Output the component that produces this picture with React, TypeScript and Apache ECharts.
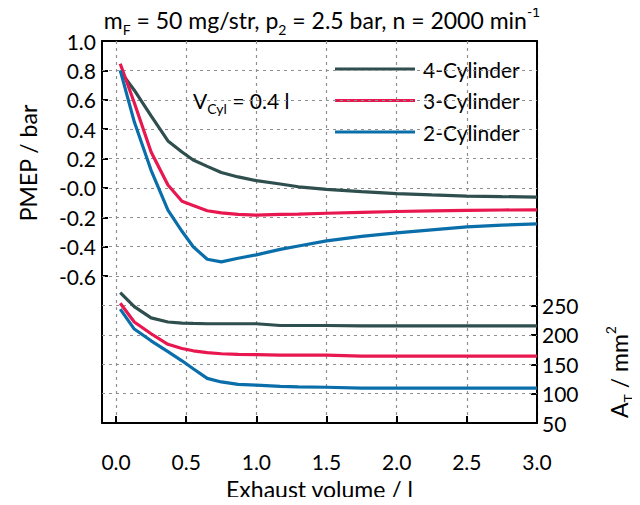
import React, { useEffect, useRef } from "react";
import * as echarts from "echarts";

const xs = [0.03, 0.13, 0.25, 0.37, 0.47, 0.55, 0.65, 0.75, 0.87, 1.0, 1.17, 1.3, 1.5, 1.75, 2.0, 2.25, 2.5, 2.75, 3.0];
const pmep4 = [0.795, 0.665, 0.49, 0.32, 0.245, 0.19, 0.147, 0.105, 0.075, 0.05, 0.027, 0.008, -0.01, -0.025, -0.038, -0.047, -0.055, -0.059, -0.062];
const pmep3 = [0.845, 0.58, 0.245, 0.02, -0.09, -0.12, -0.155, -0.17, -0.18, -0.185, -0.18, -0.178, -0.172, -0.166, -0.16, -0.156, -0.152, -0.15, -0.149];
const pmep2 = [0.8, 0.45, 0.12, -0.15, -0.295, -0.4, -0.485, -0.503, -0.478, -0.455, -0.418, -0.395, -0.36, -0.33, -0.305, -0.285, -0.265, -0.253, -0.244];
const at4 = [272, 248, 229, 222, 220, 219.5, 219, 219, 219, 219, 216, 216, 216, 215.5, 215.5, 215.5, 215.5, 215.5, 215.5];
const at3 = [254, 222, 202, 184, 177, 173, 170, 168, 167, 166.5, 165.5, 165.5, 165.5, 164, 164, 164, 164, 164, 164];
const at2 = [244, 210, 190, 171.5, 156, 142.5, 126, 120, 116, 114.5, 112.5, 111.5, 111, 109.5, 109.5, 109.5, 109.5, 109.5, 109.5];

const seriesNames = ["4-Cylinder", "3-Cylinder", "2-Cylinder"];
const colors = ["#2f4e4e", "#e8174f", "#0a6eaa"];
const xTicks = [0, 0.5, 1.0, 1.5, 2.0, 2.5, 3.0];
const leftTicks = [-0.6, -0.4, -0.2, 0, 0.2, 0.4, 0.6, 0.8, 1.0];
const rightLabels = [50, 100, 150, 200, 250];
const rightTicks = [100, 150, 200, 250];
const hGrid = [100, 150, 200, 250, 300, 350, 400, 450, 500, 550, 600, 650];

const FONT = "Lato, 'Liberation Sans', sans-serif";
const FS = 21;
const FT = 23;
const GRID_COLOR = "#8f8f8f";

const pairs = (ys: number[]) => xs.map((x, i) => [x, ys[i]]);

export default function App() {
  const ref = useRef<HTMLDivElement>(null);
  useEffect(() => {
    if (!ref.current) return;
    const chart = echarts.init(ref.current, null, { renderer: "svg" });
    const pm = [pmep4, pmep3, pmep2];
    const at = [at4, at3, at2];
    const series: any[] = [
      {
        name: "grid",
        type: "line",
        xAxisIndex: 0,
        yAxisIndex: 1,
        data: [],
        symbol: "none",
        silent: true,
        z: 1,
        markLine: {
          silent: true,
          symbol: "none",
          label: { show: false },
          lineStyle: { color: GRID_COLOR, width: 1.2, type: [3, 4] },
          data: hGrid.map((v) => ({ yAxis: v })),
        },
      },
    ];
    for (let i = 0; i < 3; i++) {
      series.push({
        name: seriesNames[i],
        type: "line",
        xAxisIndex: 0,
        yAxisIndex: 0,
        data: pairs(pm[i]),
        symbol: "none",
        lineStyle: { color: colors[i], width: 3.2 },
        itemStyle: { color: colors[i] },
        z: 5,
      });
    }
    for (let i = 0; i < 3; i++) {
      series.push({
        name: seriesNames[i] + " AT",
        type: "line",
        xAxisIndex: 0,
        yAxisIndex: 1,
        data: pairs(at[i]),
        symbol: "none",
        lineStyle: { color: colors[i], width: 3.2 },
        itemStyle: { color: colors[i] },
        z: 5,
      });
    }
    const gridLine = { show: true, lineStyle: { color: GRID_COLOR, width: 1.2, type: [3, 4] } };
    const blackLine = { show: true, onZero: false, lineStyle: { color: "#000", width: 2 } };
    chart.setOption({
      animation: false,
      backgroundColor: "#ffffff",
      grid: { left: 102, right: 103, top: 41, bottom: 76 },
      legend: {
        data: seriesNames.map((n, i) => ({ name: n, icon: "rect", itemStyle: { color: colors[i] } })),
        orient: "vertical",
        left: 335,
        top: 58.5,
        padding: 0,
        itemWidth: 80,
        itemHeight: 3,
        itemGap: 10.5,
        textStyle: { fontFamily: FONT, fontSize: FS, color: "#000", padding: [0, 0, 0, 3] },
      },
      xAxis: [
        {
          type: "value",
          min: -0.1,
          max: 3.0,
          splitNumber: 6,
          position: "bottom",
          axisLine: blackLine,
          axisTick: { show: true, inside: true, length: 7, lineStyle: { color: "#000", width: 2 }, customValues: xTicks },
          axisLabel: {
            customValues: xTicks,
            formatter: (v: number) => v.toFixed(1),
            fontFamily: FONT,
            fontSize: FS,
            color: "#000",
            margin: 28,
          },
          splitLine: gridLine,
          name: "Exhaust volume / l",
          nameLocation: "middle",
          nameGap: 45,
          nameTextStyle: { fontFamily: FONT, fontSize: FT, color: "#000" },
          z: 3,
        },
        {
          type: "value",
          min: -0.1,
          max: 3.0,
          position: "top",
          axisLine: blackLine,
          axisTick: { show: false },
          axisLabel: { show: false },
          splitLine: { show: false },
        },
      ],
      yAxis: [
        {
          type: "value",
          min: -1.6,
          max: 1.0,
          interval: 0.2,
          position: "left",
          axisLine: blackLine,
          axisTick: { show: true, inside: true, length: 6, lineStyle: { color: "#000", width: 2 }, customValues: leftTicks },
          axisLabel: {
            customValues: leftTicks,
            formatter: (v: number) => (Math.abs(v) < 1e-9 ? "-0.0" : v.toFixed(1)),
            fontFamily: FONT,
            fontSize: FS,
            color: "#000",
            margin: 6,
          },
          splitLine: { show: false },
          z: 3,
        },
        {
          type: "value",
          min: 50,
          max: 700,
          interval: 50,
          position: "right",
          axisLine: blackLine,
          axisTick: { show: true, inside: true, length: 6, lineStyle: { color: "#000", width: 2 }, customValues: rightTicks },
          axisLabel: {
            customValues: rightLabels,
            formatter: (v: number) => String(v),
            fontFamily: FONT,
            fontSize: FS,
            color: "#000",
            margin: 5,
          },
          splitLine: { show: false },
          z: 3,
        },
      ],
      graphic: [
        {
          type: "text",
          x: 322,
          y: 20,
          style: {
            text: "m{sub|F} = 50 mg/str, p{sub|2} = 2.5 bar, n = 2000 min{sup|-1}",
            font: `${FT}px ${FONT}`,
            fill: "#000",
            align: "center",
            verticalAlign: "middle",
            lineHeight: 32,
            rich: {
              sub: { fontSize: 14, fontFamily: FONT, verticalAlign: "bottom", lineHeight: 32, fill: "#000" },
              sup: { fontSize: 14, fontFamily: FONT, verticalAlign: "top", lineHeight: 32, fill: "#000" },
            },
          },
        },
        {
          type: "text",
          x: 193,
          y: 100,
          style: {
            text: "V{sub|Cyl} = 0.4 l",
            font: `${FS}px ${FONT}`,
            fill: "#000",
            align: "left",
            verticalAlign: "middle",
            lineHeight: 30,
            rich: {
              sub: { fontSize: 14, fontFamily: FONT, verticalAlign: "bottom", lineHeight: 30, fill: "#000" },
            },
          },
        },
        {
          type: "text",
          x: 28,
          y: 163,
          rotation: Math.PI / 2,
          style: {
            text: "PMEP / bar",
            font: `${FT}px ${FONT}`,
            fill: "#000",
            align: "center",
            verticalAlign: "middle",
          },
        },
        {
          type: "text",
          x: 619,
          y: 372,
          rotation: Math.PI / 2,
          style: {
            text: "A{sub|T} / mm{sup|2}",
            font: `${FT}px ${FONT}`,
            fill: "#000",
            align: "center",
            verticalAlign: "middle",
            lineHeight: 32,
            rich: {
              sub: { fontSize: 14, fontFamily: FONT, verticalAlign: "bottom", lineHeight: 32, fill: "#000" },
              sup: { fontSize: 14, fontFamily: FONT, verticalAlign: "top", lineHeight: 32, fill: "#000" },
            },
          },
        },
      ],
      series,
    });
    return () => chart.dispose();
  }, []);
  return <div ref={ref} style={{ width: 640, height: 505, margin: -8 }} />;
}
